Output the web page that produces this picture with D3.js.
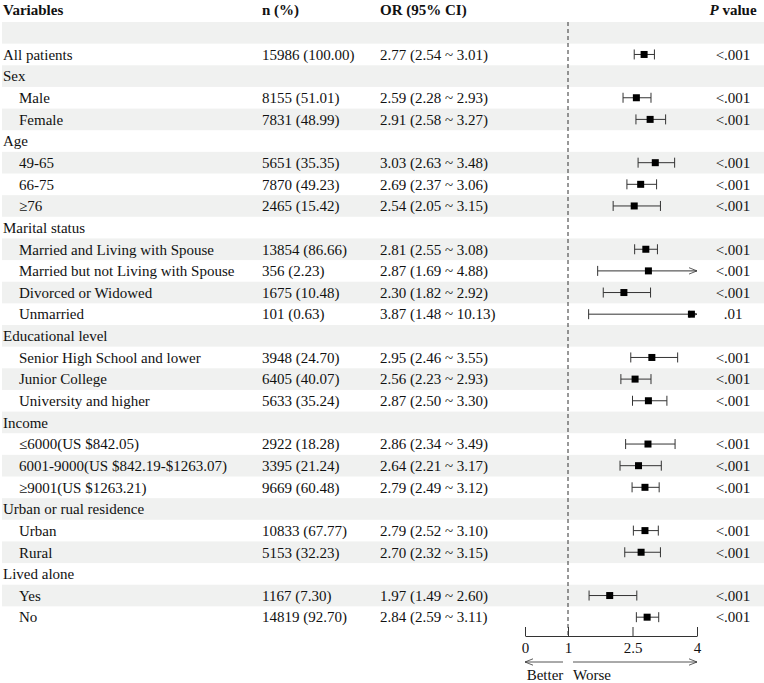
<!DOCTYPE html>
<html lang="en">
<head>
	<meta charset="UTF-8">
	<title>forest plot</title>
	<style>
		body { margin: 0; background: #fff; }
		text { font-family: "Liberation Serif", "Times New Roman", serif; font-size: 15px; fill: #111; }
	</style>
</head>
<body>
	<svg id="cont" width="764" height="683"></svg>
<script src="https://cdn.jsdelivr.net/npm/d3@7"></script>
<script>
	let variables = ["", "All patients", "Sex", "Male", "Female", "Age", "49-65", "66-75", "\u226576",
		"Marital status", "Married and Living with Spouse", "Married but not Living with Spouse", "Divorced or Widowed", "Unmarried",
		"Educational level", "Senior High School and lower", "Junior College", "University and higher",
		"Income", "\u22646000(US $842.05)", "6001-9000(US $842.19-$1263.07)", "\u22659001(US $1263.21)",
		"Urban or rual residence", "Urban", "Rural", "Lived alone", "Yes", "No"]
	let levels = [0, 0, 0, 1, 1, 0, 1, 1, 1, 0, 1, 1, 1, 1, 0, 1, 1, 1, 0, 1, 1, 1, 0, 1, 1, 0, 1, 1]
	let nPct = ["", "15986 (100.00)", "", "8155 (51.01)", "7831 (48.99)", "", "5651 (35.35)", "7870 (49.23)", "2465 (15.42)",
		"", "13854 (86.66)", "356 (2.23)", "1675 (10.48)", "101 (0.63)",
		"", "3948 (24.70)", "6405 (40.07)", "5633 (35.24)",
		"", "2922 (18.28)", "3395 (21.24)", "9669 (60.48)",
		"", "10833 (67.77)", "5153 (32.23)", "", "1167 (7.30)", "14819 (92.70)"]
	let orEst = [null, 2.77, null, 2.59, 2.91, null, 3.03, 2.69, 2.54, null, 2.81, 2.87, 2.30, 3.87,
		null, 2.95, 2.56, 2.87, null, 2.86, 2.64, 2.79, null, 2.79, 2.70, null, 1.97, 2.84]
	let ciLow = [null, 2.54, null, 2.28, 2.58, null, 2.63, 2.37, 2.05, null, 2.55, 1.69, 1.82, 1.48,
		null, 2.46, 2.23, 2.50, null, 2.34, 2.21, 2.49, null, 2.52, 2.32, null, 1.49, 2.59]
	let ciHigh = [null, 3.01, null, 2.93, 3.27, null, 3.48, 3.06, 3.15, null, 3.08, 4.88, 2.92, 10.13,
		null, 3.55, 2.93, 3.30, null, 3.49, 3.17, 3.12, null, 3.10, 3.15, null, 2.60, 3.11]
	let pValues = ["", "<.001", "", "<.001", "<.001", "", "<.001", "<.001", "<.001", "", "<.001", "<.001", "<.001", ".01",
		"", "<.001", "<.001", "<.001", "", "<.001", "<.001", "<.001", "", "<.001", "<.001", "", "<.001", "<.001"]
	let xTicks = [0, 1, 2.5, 4]

	let fmt = d3.format(".2f")
	let rows = variables.map((v, i) => ({
		i: i, label: v, level: levels[i], n: nPct[i], or: orEst[i], lo: ciLow[i], hi: ciHigh[i], p: pValues[i]
	}))

	let svg = d3.select("#cont")
	let x = d3.scaleLinear().domain([0, 4]).range([525, 697])
	let y = d3.scaleBand().domain(rows.map(d => d.i)).range([22, 628]).padding(0)
	let mid = d => y(d.i) + y.bandwidth() / 2
	let axisY = 636

	// zebra stripes
	svg.append("g").selectAll("rect")
		.data(rows.filter(d => d.i % 2 == 0))
		.join("rect")
		.attr("x", 2).attr("width", 762)
		.attr("y", d => y(d.i)).attr("height", y.bandwidth())
		.attr("fill", "#f0f1f0")

	// header
	let head = svg.append("g").attr("font-weight", "bold")
	head.append("text").attr("x", 3).attr("y", 15).style("font-weight", "bold").text("Variables")
	head.append("text").attr("x", 262).attr("y", 15).style("font-weight", "bold").text("n (%)")
	head.append("text").attr("x", 380).attr("y", 15).style("font-weight", "bold").text("OR (95% CI)")
	let ph = head.append("text").attr("x", 733).attr("y", 15).attr("text-anchor", "middle").style("font-weight", "bold")
	ph.append("tspan").style("font-style", "italic").text("P")
	ph.append("tspan").text(" value")

	// table text
	let body = svg.append("g")
	body.selectAll(".lab").data(rows).join("text")
		.attr("class", "lab")
		.attr("x", d => d.level ? 19 : 3)
		.attr("y", mid).attr("dy", "0.35em")
		.text(d => d.label)
	body.selectAll(".n").data(rows).join("text")
		.attr("class", "n")
		.attr("x", 262)
		.attr("y", mid).attr("dy", "0.35em")
		.text(d => d.n)
	body.selectAll(".ci").data(rows.filter(d => d.or != null)).join("text")
		.attr("class", "ci")
		.attr("x", 380)
		.attr("y", mid).attr("dy", "0.35em")
		.text(d => fmt(d.or) + " (" + fmt(d.lo) + " ~ " + fmt(d.hi) + ")")
	body.selectAll(".p").data(rows).join("text")
		.attr("class", "p")
		.attr("x", 733).attr("text-anchor", "middle")
		.attr("y", mid).attr("dy", "0.35em")
		.text(d => d.p)

	// reference line
	svg.append("line")
		.attr("x1", x(1)).attr("x2", x(1))
		.attr("y1", 22).attr("y2", axisY)
		.attr("stroke", "#333").attr("stroke-dasharray", "4,3")

	svg.append("defs").append("marker")
		.attr("id", "arr").attr("viewBox", "0 0 10 10")
		.attr("refX", 10).attr("refY", 5)
		.attr("markerWidth", 10).attr("markerHeight", 8)
		.attr("markerUnits", "userSpaceOnUse")
		.attr("orient", "auto")
		.append("path").attr("d", "M0,1 L10,5 L0,9")
		.attr("fill", "none").attr("stroke", "#333").attr("stroke-width", 1)

	// confidence intervals
	let dom = x.domain()[1]
	let ci = svg.append("g").selectAll("g")
		.data(rows.filter(d => d.or != null))
		.join("g")
	ci.append("line")
		.attr("x1", d => x(d.lo)).attr("x2", d => x(Math.min(d.hi, dom)))
		.attr("y1", mid).attr("y2", mid)
		.attr("stroke", "#333")
		.attr("marker-end", d => d.hi > dom ? "url(#arr)" : null)
	ci.append("line")
		.attr("x1", d => x(d.lo)).attr("x2", d => x(d.lo))
		.attr("y1", d => mid(d) - 5).attr("y2", d => mid(d) + 5)
		.attr("stroke", "#333")
	ci.filter(d => d.hi <= dom).append("line")
		.attr("x1", d => x(d.hi)).attr("x2", d => x(d.hi))
		.attr("y1", d => mid(d) - 5).attr("y2", d => mid(d) + 5)
		.attr("stroke", "#333")
	ci.append("rect")
		.attr("x", d => x(d.or) - 3.5).attr("y", d => mid(d) - 3.5)
		.attr("width", 7).attr("height", 7)
		.attr("fill", "#000")

	// x axis
	let xaxis = d3.axisBottom(x)
		.tickValues(xTicks)
		.tickFormat(d => d)
		.tickSizeInner(-9)
		.tickSizeOuter(0)
		.tickPadding(6)
	let ax = svg.append("g")
		.attr("transform", "translate(0," + axisY + ")")
		.call(xaxis)
	ax.select(".domain").attr("stroke", "#333")
	ax.selectAll(".tick line").attr("stroke", "#333")
	ax.selectAll(".tick text").attr("font-family", null).attr("font-size", null).attr("fill", null)

	// direction arrows
	svg.append("line")
		.attr("x1", x(1) - 5).attr("x2", x(0))
		.attr("y1", 662).attr("y2", 662)
		.attr("stroke", "#555").attr("marker-end", "url(#arr)")
	svg.append("line")
		.attr("x1", x(1) + 5).attr("x2", x(4))
		.attr("y1", 662).attr("y2", 662)
		.attr("stroke", "#555").attr("marker-end", "url(#arr)")
	svg.append("text").attr("x", 545).attr("y", 675).attr("dy", "0.35em").attr("text-anchor", "middle").text("Better")
	svg.append("text").attr("x", 573).attr("y", 675).attr("dy", "0.35em").text("Worse")
</script>
</body>
</html>
